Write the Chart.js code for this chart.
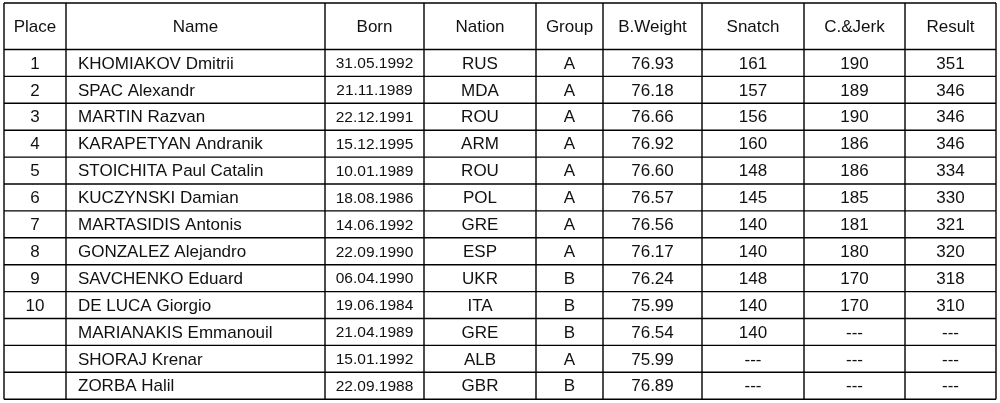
<!DOCTYPE html>
<html><head><meta charset="utf-8">
<script src="https://cdn.jsdelivr.net/npm/chart.js@4/dist/chart.umd.min.js"></script>
<style>html,body{margin:0;padding:0;background:#fff}#w{width:1000px;height:403px}</style>
</head><body><div id="w"><canvas id="c"></canvas></div>
<script>
const headers = ["Place","Name","Born","Nation","Group","B.Weight","Snatch","C.&Jerk","Result"];
const places = ["1","2","3","4","5","6","7","8","9","10","","",""];
const names = ["KHOMIAKOV Dmitrii","SPAC Alexandr","MARTIN Razvan","KARAPETYAN Andranik","STOICHITA Paul Catalin","KUCZYNSKI Damian","MARTASIDIS Antonis","GONZALEZ Alejandro","SAVCHENKO Eduard","DE LUCA Giorgio","MARIANAKIS Emmanouil","SHORAJ Krenar","ZORBA Halil"];
const born = ["31.05.1992","21.11.1989","22.12.1991","15.12.1995","10.01.1989","18.08.1986","14.06.1992","22.09.1990","06.04.1990","19.06.1984","21.04.1989","15.01.1992","22.09.1988"];
const nations = ["RUS","MDA","ROU","ARM","ROU","POL","GRE","ESP","UKR","ITA","GRE","ALB","GBR"];
const groups = ["A","A","A","A","A","A","A","A","B","B","B","A","B"];
const bodyWeights = ["76.93","76.18","76.66","76.92","76.60","76.57","76.56","76.17","76.24","75.99","76.54","75.99","76.89"];
const snatch = ["161","157","156","160","148","145","140","140","148","140","140","---","---"];
const cleanJerk = ["190","189","190","186","186","185","181","180","170","170","---","---","---"];
const results = ["351","346","346","346","334","330","321","320","318","310","---","---","---"];

const colEdges = [4,66,325,424,536,603,702,804,905,996];
const tableTop = 3, headBottom = 49.5, rowH = 26.9;
const cols = [places,names,born,nations,groups,bodyWeights,snatch,cleanJerk,results];

const tablePlugin = {
  id:'table',
  afterDraw(chart){
    const ctx = chart.ctx, xs = chart.scales.x, ys = chart.scales.y;
    const X = v=>xs.getPixelForValue(v), Y = v=>ys.getPixelForValue(v);
    const nRows = names.length;
    const bottom = headBottom + rowH*nRows;
    ctx.save();
    ctx.strokeStyle = '#000'; ctx.lineWidth = 1.4;
    const hl = [tableTop, headBottom];
    for(let i=1;i<=nRows;i++) hl.push(headBottom+rowH*i);
    hl.forEach(y=>{ctx.beginPath();ctx.moveTo(X(colEdges[0]),Y(y));ctx.lineTo(X(colEdges[colEdges.length-1]),Y(y));ctx.stroke();});
    colEdges.forEach(x=>{ctx.beginPath();ctx.moveTo(X(x),Y(tableTop));ctx.lineTo(X(x),Y(bottom));ctx.stroke();});
    ctx.fillStyle = '#111'; ctx.textBaseline = 'middle';
    ctx.font = '17px "Liberation Sans", Arial, sans-serif';
    headers.forEach((h,j)=>{
      ctx.textAlign='center';
      ctx.fillText(h, X((colEdges[j]+colEdges[j+1])/2), Y((tableTop+headBottom)/2)+1);
    });
    for(let i=0;i<nRows;i++){
      const cy = Y(headBottom+rowH*(i+0.5))+1;
      cols.forEach((arr,j)=>{
        const v = arr[i];
        ctx.font = (j===2 ? '15.5px' : '17px') + ' "Liberation Sans", Arial, sans-serif';
        if(j===1){ctx.textAlign='left';ctx.fillText(v, X(colEdges[1]+12), cy);}
        else {ctx.textAlign='center';ctx.fillText(v, X((colEdges[j]+colEdges[j+1])/2), cy);}
      });
    }
    ctx.restore();
  }
};

new Chart(document.getElementById('c'),{
  type:'scatter',
  data:{datasets:[{data:[],pointRadius:0}]},
  options:{
    responsive:true, maintainAspectRatio:false, animation:false,
    layout:{padding:0},
    plugins:{legend:{display:false},tooltip:{enabled:false}},
    scales:{
      x:{type:'linear',min:0,max:1000,display:false},
      y:{type:'linear',min:0,max:403,reverse:true,display:false}
    }
  },
  plugins:[tablePlugin]
});
</script></body></html>
